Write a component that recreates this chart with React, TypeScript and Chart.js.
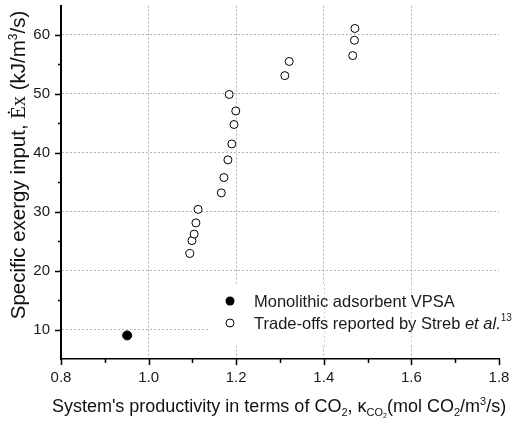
import { useEffect, useRef } from "react";
import { Chart, registerables } from "chart.js";

Chart.register(...registerables);

// Monolithic adsorbent VPSA operating point
const monolithX = [0.951];
const monolithY = [9.0];

// Trade-off points reported by Streb et al.
const strebX = [1.094, 1.099, 1.104, 1.108, 1.113, 1.166, 1.172, 1.181, 1.19, 1.195, 1.199, 1.184, 1.311, 1.321, 1.466, 1.47, 1.471];
const strebY = [22.9, 25.1, 26.2, 28.1, 30.4, 33.2, 35.8, 38.8, 41.5, 44.8, 47.1, 49.9, 53.1, 55.5, 56.5, 59.1, 61.1];

const xTicks = [0.8, 1.0, 1.2, 1.4, 1.6, 1.8];
const xMinorTicks = [0.9, 1.1, 1.3, 1.5, 1.7];
const yTicks = [10, 20, 30, 40, 50, 60];
const yMinorTicks = [15, 25, 35, 45, 55];

const SANS = "'Liberation Sans', Arial, sans-serif";
const SERIF = "'Liberation Serif', 'Times New Roman', serif";
const GRID = "#b4b4b4";

type Run = { text: string; font: string; dy?: number };

function runsWidth(ctx: CanvasRenderingContext2D, runs: Run[]) {
  let w = 0;
  for (const r of runs) {
    ctx.font = r.font;
    w += ctx.measureText(r.text).width;
  }
  return w;
}

function drawRuns(ctx: CanvasRenderingContext2D, runs: Run[], x: number, y: number) {
  let cx = x;
  ctx.textBaseline = "alphabetic";
  ctx.textAlign = "left";
  for (const r of runs) {
    ctx.font = r.font;
    ctx.fillText(r.text, cx, y + (r.dy || 0));
    cx += ctx.measureText(r.text).width;
  }
}

const xTitle: Run[] = [
  { text: "System's productivity in terms of CO", font: `18px ${SANS}` },
  { text: "2", font: `11px ${SANS}`, dy: 4 },
  { text: ", ", font: `18px ${SANS}` },
  { text: "κ", font: `18px ${SANS}` },
  { text: "CO", font: `11px ${SANS}`, dy: 4 },
  { text: "2", font: `7px ${SANS}`, dy: 6 },
  { text: "(mol CO", font: `18px ${SANS}` },
  { text: "2", font: `11px ${SANS}`, dy: 4 },
  { text: "/m", font: `18px ${SANS}` },
  { text: "3", font: `11px ${SANS}`, dy: -7 },
  { text: "/s)", font: `18px ${SANS}` },
];

const yTitle: Run[] = [
  { text: "Specific exergy input, ", font: `20.5px ${SANS}` },
  { text: "Ėx", font: `20.5px ${SERIF}` },
  { text: " (kJ/m", font: `20.5px ${SANS}` },
  { text: "3", font: `12px ${SANS}`, dy: -8 },
  { text: "/s)", font: `20.5px ${SANS}` },
];

const decorations = {
  id: "decorations",
  afterDraw(chart: any) {
    const ctx: CanvasRenderingContext2D = chart.ctx;
    const xs = chart.scales.x;
    const ys = chart.scales.y;
    const area = chart.chartArea;

    ctx.save();
    // tick marks, drawn outward
    ctx.strokeStyle = "#000";
    ctx.lineWidth = 1.5;
    ctx.beginPath();
    for (const v of xTicks) {
      const px = Math.round(xs.getPixelForValue(v)) + 0.5;
      ctx.moveTo(px, area.bottom);
      ctx.lineTo(px, area.bottom + 6);
    }
    for (const v of xMinorTicks) {
      const px = Math.round(xs.getPixelForValue(v)) + 0.5;
      ctx.moveTo(px, area.bottom);
      ctx.lineTo(px, area.bottom + 4);
    }
    for (const v of yTicks) {
      const py = Math.round(ys.getPixelForValue(v)) + 0.5;
      ctx.moveTo(area.left, py);
      ctx.lineTo(area.left - 6, py);
    }
    for (const v of yMinorTicks) {
      const py = Math.round(ys.getPixelForValue(v)) + 0.5;
      ctx.moveTo(area.left, py);
      ctx.lineTo(area.left - 3, py);
    }
    ctx.stroke();

    // axis titles
    ctx.fillStyle = "#111";
    const xw = runsWidth(ctx, xTitle);
    drawRuns(ctx, xTitle, 279 - xw / 2, 412);

    const yw = runsWidth(ctx, yTitle);
    ctx.save();
    ctx.translate(25, 165);
    ctx.rotate(-Math.PI / 2);
    drawRuns(ctx, yTitle, -yw / 2, 0);
    ctx.restore();

    ctx.restore();
  },
};

const legendBox = {
  id: "legendBox",
  afterDatasetsDraw(chart: any) {
    const ctx: CanvasRenderingContext2D = chart.ctx;
    const xs = chart.scales.x;
    const area = chart.chartArea;
    const left = 209;
    const top = 284;
    const bottom = 346;

    ctx.save();
    ctx.fillStyle = "#fff";
    ctx.fillRect(left, top, area.right - 1 - left, bottom - top);

    // faint vertical grid seen through the legend
    ctx.strokeStyle = "#d6d6d6";
    ctx.lineWidth = 1;
    ctx.setLineDash([2, 2]);
    ctx.beginPath();
    for (const v of [1.4, 1.6]) {
      const px = Math.round(xs.getPixelForValue(v)) + 0.5;
      ctx.moveTo(px, top);
      ctx.lineTo(px, bottom);
    }
    ctx.stroke();
    ctx.setLineDash([]);

    const mx = 230;
    const r1 = 301;
    const r2 = 323;
    ctx.fillStyle = "#000";
    ctx.beginPath();
    ctx.arc(mx, r1, 4.5, 0, Math.PI * 2);
    ctx.fill();
    ctx.strokeStyle = "#000";
    ctx.lineWidth = 1;
    ctx.beginPath();
    ctx.arc(mx, r2, 4, 0, Math.PI * 2);
    ctx.fillStyle = "#fff";
    ctx.fill();
    ctx.stroke();

    ctx.fillStyle = "#1a1a1a";
    drawRuns(ctx, [{ text: "Monolithic adsorbent VPSA", font: `16.5px ${SANS}` }], 254, r1 + 6);
    drawRuns(
      ctx,
      [
        { text: "Trade-offs reported by Streb ", font: `16.5px ${SANS}` },
        { text: "et al.", font: `italic 16.5px ${SANS}` },
        { text: "13", font: `10px ${SANS}`, dy: -8 },
      ],
      254,
      r2 + 6
    );
    ctx.restore();
  },
};

export default function App() {
  const canvasRef = useRef<HTMLCanvasElement | null>(null);

  useEffect(() => {
    const canvas = canvasRef.current;
    if (!canvas) return;

    const chart = new Chart(canvas, {
      type: "scatter",
      data: {
        datasets: [
          {
            label: "Monolithic adsorbent VPSA",
            data: monolithX.map((x, i) => ({ x, y: monolithY[i] })),
            pointRadius: 4.5,
            pointBackgroundColor: "#000",
            pointBorderColor: "#000",
            pointBorderWidth: 1,
          },
          {
            label: "Trade-offs reported by Streb et al.",
            data: strebX.map((x, i) => ({ x, y: strebY[i] })),
            pointRadius: 4,
            pointBackgroundColor: "#fff",
            pointBorderColor: "#000",
            pointBorderWidth: 1,
          },
        ],
      },
      options: {
        responsive: false,
        animation: false,
        devicePixelRatio: 1,
        layout: { padding: { left: 0, top: 5, right: 13, bottom: 0 } },
        plugins: {
          legend: { display: false },
          tooltip: { enabled: false },
        },
        scales: {
          x: {
            type: "linear",
            min: 0.8,
            max: 1.8,
            afterBuildTicks: (scale: any) => {
              scale.ticks = xTicks.map((value) => ({ value }));
            },
            afterFit: (scale: any) => {
              scale.height = 65;
              scale.paddingLeft = 0;
              scale.paddingRight = 0;
            },
            ticks: {
              padding: 10,
              color: "#1a1a1a",
              font: { family: SANS, size: 15 },
              maxRotation: 0,
              callback: (v: any) => Number(v).toFixed(1),
            },
            grid: {
              drawTicks: false,
              color: (c: any) => {
                const v = c.tick ? c.tick.value : 0;
                return v > 0.85 && v < 1.75 ? GRID : "rgba(0,0,0,0)";
              },
              lineWidth: 1,
            },
            border: { display: true, color: "#000", width: 1.5, dash: [2, 2] },
          },
          y: {
            type: "linear",
            min: 5,
            max: 65,
            afterBuildTicks: (scale: any) => {
              scale.ticks = yTicks.map((value) => ({ value }));
            },
            afterFit: (scale: any) => {
              scale.width = 61;
              scale.paddingTop = 0;
              scale.paddingBottom = 0;
            },
            ticks: {
              padding: 11,
              color: "#1a1a1a",
              font: { family: SANS, size: 15 },
              callback: (v: any) => String(v),
            },
            grid: {
              drawTicks: false,
              color: GRID,
              lineWidth: 1,
            },
            border: { display: true, color: "#000", width: 2, dash: [2, 2] },
          },
        },
      },
      plugins: [legendBox, decorations],
    });

    return () => chart.destroy();
  }, []);

  return (
    <div style={{ position: "fixed", left: 0, top: 0, width: 512, height: 424, background: "#fff" }}>
      <canvas ref={canvasRef} width={512} height={424} />
    </div>
  );
}
